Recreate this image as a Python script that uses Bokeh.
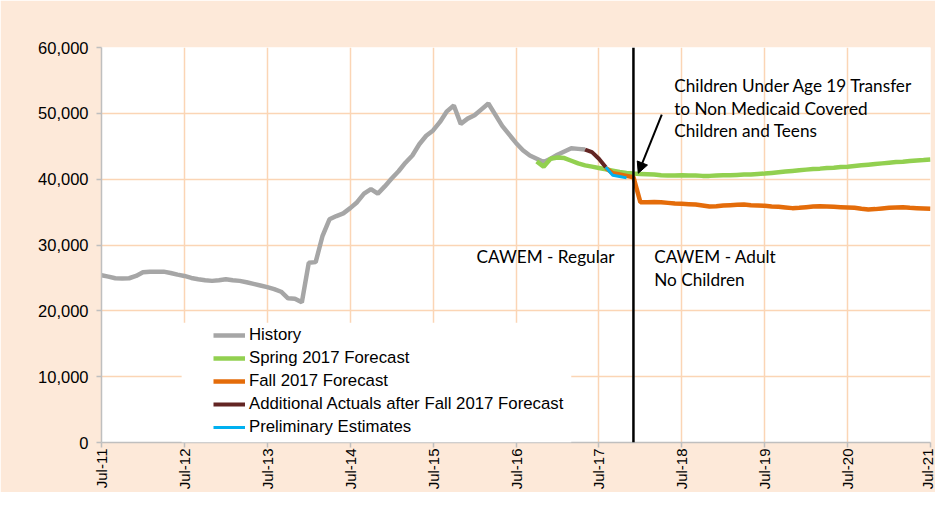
import math
from bokeh.plotting import figure
from bokeh.models import (Range1d, FixedTicker, NumeralTickFormatter, Span, Label,
                          Arrow, NormalHead, BoxAnnotation, Legend, LegendItem)
from bokeh.embed import file_html
from bokeh.resources import INLINE

# ---------------- data (x = months since Jul-2011) ----------------
tick_months = [0, 12, 24, 36, 48, 60, 72, 84, 96, 108, 120]
tick_labels = ["Jul-11", "Jul-12", "Jul-13", "Jul-14", "Jul-15", "Jul-16",
               "Jul-17", "Jul-18", "Jul-19", "Jul-20", "Jul-21"]
y_ticks = [0, 10000, 20000, 30000, 40000, 50000, 60000]

history_start = 0
history = [25400, 25200, 24950, 24900, 24950, 25300, 25850, 25950, 25950, 25950,
           25750, 25500, 25300, 25000, 24800, 24650, 24550, 24650, 24800, 24650,
           24550, 24350, 24100, 23850, 23600, 23300, 22900, 21900, 21850, 21300,
           27300, 27400, 31400, 33900, 34400, 34800, 35600, 36500, 37800, 38500,
           37800, 38900, 40100, 41200, 42500, 43600, 45300, 46600, 47400, 48700,
           50300, 51200, 48400, 49200, 49700, 50600, 51500, 49800, 48100, 46800,
           45500, 44400, 43600, 43100, 42600, 43100, 43700, 44200, 44700, 44600,
           44500]

spring_start = 63
spring = [42700, 41900, 43100, 43300, 43200, 42800, 42400, 42100, 41900, 41700,
          41500, 41300, 41100, 40950, 40850, 40800, 40750, 40700, 40600, 40550,
          40550, 40600, 40550, 40550, 40500, 40500, 40550, 40600, 40600, 40650,
          40700, 40700, 40800, 40850, 40950, 41050, 41150, 41250, 41350, 41450,
          41550, 41600, 41700, 41750, 41850, 41900, 42000, 42100, 42200, 42300,
          42400, 42500, 42600, 42650, 42750, 42850, 42900, 43000]

fall_start = 73
fall = [41700, 40900, 40700, 40500, 40300, 36500, 36500, 36550, 36500, 36400,
        36300, 36250, 36200, 36150, 36000, 35850, 35900, 36000, 36050, 36100,
        36150, 36050, 36000, 35950, 35850, 35800, 35700, 35600, 35650, 35750,
        35850, 35900, 35850, 35800, 35750, 35700, 35650, 35500, 35400, 35450,
        35550, 35650, 35700, 35750, 35650, 35600, 35550, 35500]

actuals_start = 70
actuals = [44500, 44100, 43100, 41800]

prelim_start = 73
prelim = [41800, 40600, 40400, 40200]

transfer_month = 77
arrow_tail = (81.1, 49800)
arrow_head = (77.7, 40900)

def xs(start, vals):
    return list(range(start, start + len(vals)))

# ---------------- colours ----------------
PEACH = "#FDE9D9"
GRID = "#FBD5B5"
AXIS = "#BFBFBF"

p = figure(width=935, height=492, output_backend="svg", toolbar_location=None,
           x_range=Range1d(0, 120), y_range=Range1d(0, 60000),
           min_border_left=101, min_border_right=5, min_border_top=47,
           min_border_bottom=50)
p.background_fill_color = "white"
p.border_fill_color = PEACH
p.outline_line_color = None

# axes
p.xaxis.ticker = FixedTicker(ticks=tick_months)
p.xaxis.major_label_overrides = {m: l for m, l in zip(tick_months, tick_labels)}
p.xaxis.major_label_orientation = math.pi / 2
p.yaxis.ticker = FixedTicker(ticks=y_ticks)
p.yaxis.formatter = NumeralTickFormatter(format="0,0")
for ax in (p.xaxis, p.yaxis):
    ax.axis_line_color = AXIS
    ax.axis_line_width = 1.5
    ax.major_tick_line_color = AXIS
    ax.major_tick_line_width = 1.5
    ax.major_tick_in = 0
    ax.major_tick_out = 5
    ax.minor_tick_line_color = None
    ax.major_label_text_font = "Liberation Sans"
    ax.major_label_text_color = "black"
p.xaxis.major_label_standoff = 1
p.yaxis.major_label_standoff = 8
p.xaxis.major_label_text_font_size = "15px"
p.yaxis.major_label_text_font_size = "16.5px"

p.xgrid.ticker = FixedTicker(ticks=tick_months)
p.ygrid.ticker = FixedTicker(ticks=y_ticks)
for g in (p.xgrid, p.ygrid):
    g.grid_line_color = GRID
    g.grid_line_width = 1.5

# white legend area hiding gridlines
p.add_layout(BoxAnnotation(left=11.6, right=68.0, bottom=0, top=18200,
                           fill_color="white", fill_alpha=1.0, line_color=None))

# lines
r_hist = p.line(xs(history_start, history), history, line_color="#A6A6A6", line_width=4.5)
r_spr = p.line(xs(spring_start, spring), spring, line_color="#92D050", line_width=4.5)
r_fall = p.line(xs(fall_start, fall), fall, line_color="#E46C0A", line_width=4.5)
r_act = p.line(xs(actuals_start, actuals), actuals, line_color="#632523", line_width=4)
r_pre = p.line(xs(prelim_start, prelim), prelim, line_color="#00B0F0", line_width=3)

# transfer line
p.add_layout(Span(location=transfer_month, dimension="height", line_color="black", line_width=2.5))

# arrow
p.add_layout(Arrow(x_start=arrow_tail[0], y_start=arrow_tail[1],
                   x_end=arrow_head[0], y_end=arrow_head[1],
                   line_color="black", line_width=2,
                   end=NormalHead(size=11, fill_color="black", line_color="black")))

# annotation texts
FONT = "Lato"
FS = "17.2px"
def lab(x, y, t):
    p.add_layout(Label(x=x, y=y, text=t, text_font=FONT, text_font_size=FS,
                       text_color="black", text_baseline="middle", text_align="left"))

lab(82.9, 54230, "Children Under Age 19 Transfer")
lab(82.9, 50810, "to Non Medicaid Covered")
lab(82.9, 47390, "Children and Teens")
lab(54.3, 28250, "CAWEM - Regular")
lab(80.0, 28250, "CAWEM - Adult")
lab(80.0, 24760, "No Children")

legend = Legend(items=[
    LegendItem(label="History", renderers=[r_hist]),
    LegendItem(label="Spring 2017 Forecast", renderers=[r_spr]),
    LegendItem(label="Fall 2017 Forecast", renderers=[r_fall]),
    LegendItem(label="Additional Actuals after Fall 2017 Forecast", renderers=[r_act]),
    LegendItem(label="Preliminary Estimates", renderers=[r_pre]),
], location=(107, 0))
legend.padding = 5
legend.margin = 0
legend.spacing = 3
legend.glyph_width = 32
legend.glyph_height = 20
legend.label_height = 20
legend.label_standoff = 4
legend.label_text_font = "Liberation Sans"
legend.label_text_font_size = "16.8px"
legend.label_text_color = "black"
legend.background_fill_alpha = 0
legend.border_line_alpha = 0
p.add_layout(legend)

open("out.html", "w").write(file_html(p, INLINE))
